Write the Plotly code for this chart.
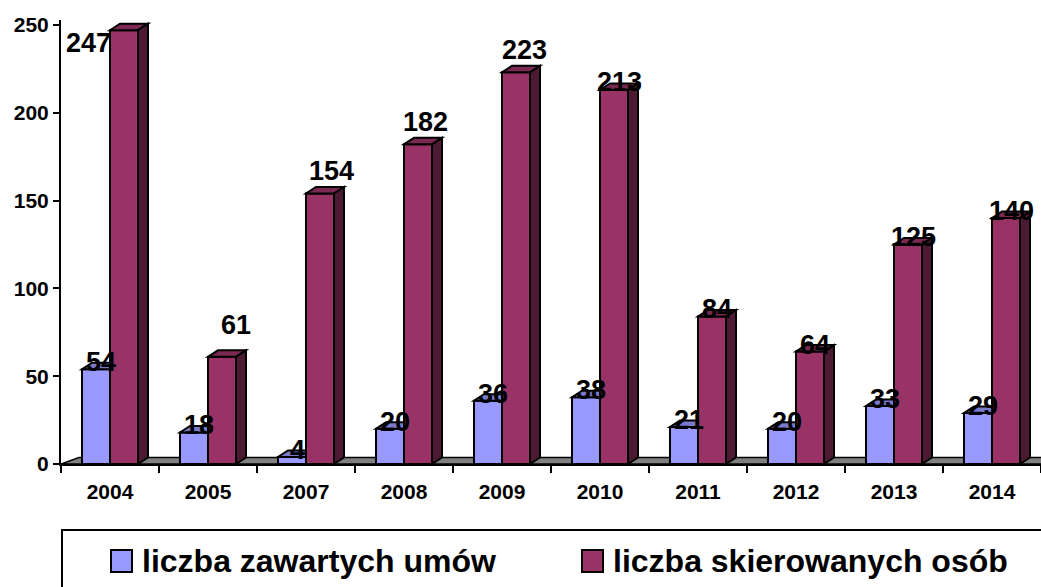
import plotly.graph_objects as go

# ---- data ----
years = ['2004', '2005', '2007', '2008', '2009', '2010', '2011', '2012', '2013', '2014']
umowy = [54, 18, 4, 20, 36, 38, 21, 20, 33, 29]
osoby = [247, 61, 154, 182, 223, 213, 84, 64, 125, 140]
series_names = ['liczba zawartych umów', 'liczba skierowanych osób']
y_ticks = [0, 50, 100, 150, 200, 250]

# ---- style ----
BLUE, BLUE_TOP = '#9999FF', '#7A7ACC'
MAROON, MAROON_TOP, MAROON_SIDE = '#993366', '#7A2952', '#4D1A33'
FLOOR = '#808080'
FONT = 'Arial, Liberation Sans, sans-serif'

W, H = 1041, 587
L, R, T, B = 61, 0, 20, 123
PW, PH = W - L - R, H - T - B
YMAX = 252.8
PX_X = PW / len(years)          # pixels per category
PX_Y = PH / YMAX                # pixels per value unit

BAR_W = 0.2857                  # bar width in category units
DX = 10 / PX_X                  # 3D depth offset (x)
DY = 6.5 / PX_Y                 # 3D depth offset (y)
FDX = 18 / PX_X                 # floor depth offset (x)

# label pixel shifts (style only): (xshift, yshift)
shift_umowy = [(0, 7)] * len(years)
shift_osoby = [(-41, -13), (9, 32), (6, 23), (2, 22), (3, 22),
               (0, 8), (0, 7), (0, 7), (0, 7), (0, 7)]


def px2x(px):
    return (px - L) / PW


def py2y(py):
    return (T + PH - py) / PH


def poly(pts):
    return 'M ' + ' L '.join(f'{x},{y}' for x, y in pts) + ' Z'


xc = [i + 0.5 for i in range(len(years))]

fig = go.Figure()
fig.add_trace(go.Bar(x=xc, y=umowy, width=BAR_W, offset=-BAR_W, name=series_names[0],
                     marker=dict(color=BLUE, line=dict(color='black', width=2)),
                     showlegend=False, hoverinfo='skip'))
fig.add_trace(go.Bar(x=xc, y=osoby, width=BAR_W, offset=0, name=series_names[1],
                     marker=dict(color=MAROON, line=dict(color='black', width=2)),
                     showlegend=False, hoverinfo='skip'))

shapes = []
# floor
n = len(years)
shapes.append(dict(type='path', xref='x', yref='y', layer='below',
                   path=poly([(0, 0), (n + 1, 0), (n + 1, DY), (FDX, DY)]),
                   fillcolor=FLOOR, line=dict(color='black', width=1.5)))

for i, (u, o) in enumerate(zip(umowy, osoby)):
    a = xc[i] - BAR_W
    b = xc[i]
    c = xc[i] + BAR_W
    # blue top face (right part hidden behind the maroon bar)
    shapes.append(dict(type='path', xref='x', yref='y', layer='above',
                       path=poly([(a, u), (b, u), (b, u + DY), (a + DX, u + DY)]),
                       fillcolor=BLUE_TOP, line=dict(color='black', width=2)))
    # maroon top face
    shapes.append(dict(type='path', xref='x', yref='y', layer='above',
                       path=poly([(b, o), (c, o), (c + DX, o + DY), (b + DX, o + DY)]),
                       fillcolor=MAROON_TOP, line=dict(color='black', width=2)))
    # maroon side face
    shapes.append(dict(type='path', xref='x', yref='y', layer='above',
                       path=poly([(c, 0), (c + DX, DY), (c + DX, o + DY), (c, o)]),
                       fillcolor=MAROON_SIDE, line=dict(color='black', width=2)))

annotations = []
lab_font = dict(family=FONT, size=27, color='black', weight='bold')
for i, (u, o) in enumerate(zip(umowy, osoby)):
    annotations.append(dict(x=xc[i] - BAR_W / 2 + DX / 2, y=u, xref='x', yref='y',
                            text=str(u), showarrow=False, font=lab_font,
                            xanchor='center', yanchor='middle',
                            xshift=shift_umowy[i][0], yshift=shift_umowy[i][1]))
    annotations.append(dict(x=xc[i] + BAR_W / 2 + DX / 2, y=o, xref='x', yref='y',
                            text=str(o), showarrow=False, font=lab_font,
                            xanchor='center', yanchor='middle',
                            xshift=shift_osoby[i][0], yshift=shift_osoby[i][1]))

# manual legend
shapes.append(dict(type='rect', xref='paper', yref='paper',
                   x0=px2x(62), x1=px2x(1060), y0=py2y(530), y1=py2y(610),
                   fillcolor='white', line=dict(color='black', width=2), layer='above'))
leg_font = dict(family=FONT, size=32, color='black', weight='bold')
for (sx, tx, col, name) in [(111, 140, BLUE, series_names[0]), (582, 611, MAROON, series_names[1])]:
    shapes.append(dict(type='rect', xref='paper', yref='paper',
                       x0=px2x(sx), x1=px2x(sx + 21), y0=py2y(550), y1=py2y(572),
                       fillcolor=col, line=dict(color='black', width=2), layer='above'))
    annotations.append(dict(x=px2x(tx), y=py2y(561), xref='paper', yref='paper',
                            text=name, showarrow=False, font=leg_font,
                            xanchor='left', yanchor='middle'))

tick_font = dict(family=FONT, size=21, color='black', weight='bold')
fig.update_layout(
    width=W, height=H,
    margin=dict(l=L, r=R, t=T, b=B, pad=0, autoexpand=False),
    paper_bgcolor='white', plot_bgcolor='white',
    barmode='overlay',
    shapes=shapes, annotations=annotations,
    showlegend=False,
    xaxis=dict(range=[0, n], tickmode='array', tickvals=xc, ticktext=years,
               ticks='', showgrid=False, zeroline=False, showline=True,
               linecolor='black', linewidth=2, tickfont=tick_font,
               ticklabelstandoff=8,
               minor=dict(tickmode='array', tickvals=list(range(n + 1)), ticks='outside',
                          ticklen=7, tickwidth=2, tickcolor='black', showgrid=False)),
    yaxis=dict(range=[0, YMAX], tickmode='array', tickvals=y_ticks,
               ticks='outside', ticklen=6, tickwidth=2, tickcolor='black',
               showgrid=False, zeroline=False, showline=True,
               linecolor='black', linewidth=2, tickfont=tick_font),
    font=dict(family=FONT),
)

fig.write_html('out.html', config={'displayModeBar': False},
               post_script="document.body.style.margin='0px';document.body.style.overflow='hidden';")
